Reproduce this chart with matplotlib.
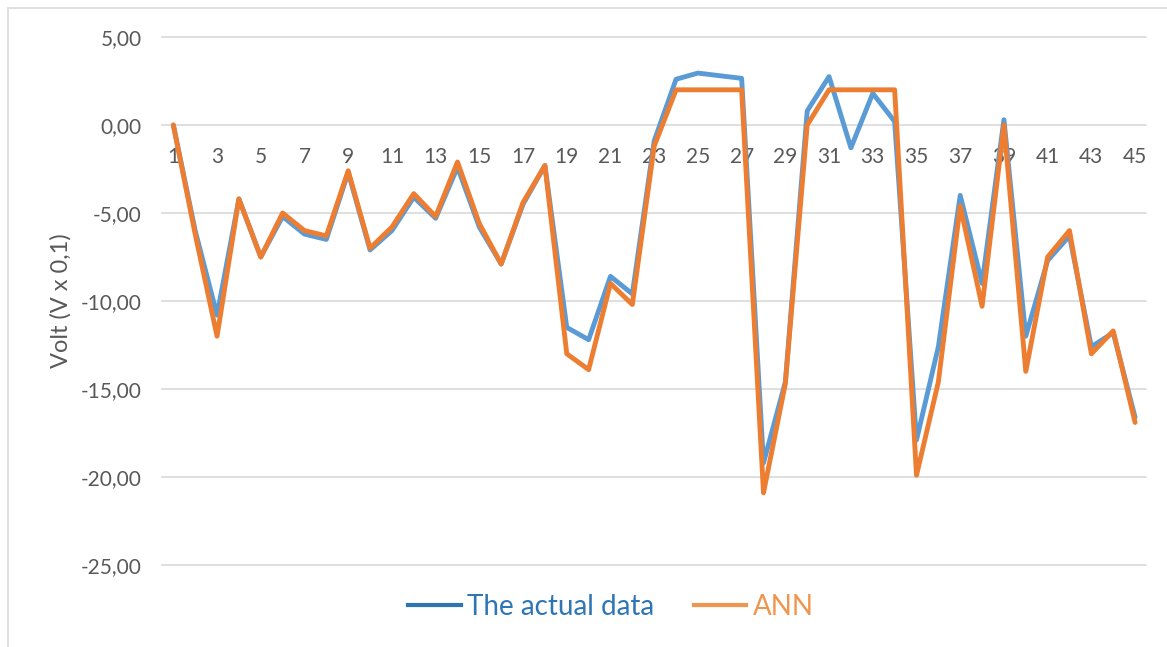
import matplotlib
matplotlib.use("Agg")
import matplotlib.pyplot as plt
from matplotlib.lines import Line2D
from matplotlib.patches import Rectangle

categories = list(range(1, 46))
actual = [0.0, -6.0, -10.8, -4.2, -7.5, -5.2, -6.2, -6.5, -2.7, -7.1,
          -6.0, -4.1, -5.3, -2.4, -5.8, -7.9, -4.5, -2.3, -11.5, -12.2,
          -8.6, -9.6, -0.9, 2.6, 2.95, 2.8, 2.65, -19.2, -14.6, 0.8,
          2.75, -1.3, 1.8, 0.2, -17.9, -12.6, -4.0, -9.0, 0.3, -12.0,
          -7.7, -6.3, -12.6, -11.8, -16.6]
ann = [0.0, -6.2, -12.0, -4.2, -7.5, -5.0, -6.0, -6.3, -2.6, -7.0,
       -5.8, -3.9, -5.2, -2.1, -5.6, -7.9, -4.4, -2.3, -13.0, -13.9,
       -9.0, -10.2, -1.2, 2.0, 2.0, 2.0, 2.0, -20.9, -14.7, 0.0,
       2.0, 2.0, 2.0, 2.0, -19.9, -14.6, -4.6, -10.3, 0.0, -14.0,
       -7.5, -6.0, -13.0, -11.7, -16.9]
yticks = [5, 0, -5, -10, -15, -20, -25]
xtick_labels = [str(c) for c in categories if c % 2 == 1]

plt.rcParams['font.family'] = ['Lato', 'DejaVu Sans']
grey = '#595959'

fig = plt.figure(figsize=(11.67, 6.47), dpi=100)
fig.patches.append(Rectangle((8/1167, -0.1), 1.2, 1 - 8/647 + 0.1, transform=fig.transFigure,
                             fill=False, edgecolor='#D9D9D9', linewidth=1.2))
ax = fig.add_axes([162.4/1167, 82/647, (1146-162.4)/1167, 528/647])

ax.plot(categories, actual, color='#5B9BD5', lw=3.5, solid_joinstyle='round', solid_capstyle='round', zorder=3)
ax.plot(categories, ann, color='#ED7D31', lw=3.5, solid_joinstyle='round', solid_capstyle='round', zorder=4)

ax.set_xlim(0.5, 45.5)
ax.set_ylim(-25, 5)
ax.set_yticks(yticks)
ax.set_yticklabels([f"{v:.2f}".replace('.', ',') for v in yticks], color=grey, fontsize=15)
ax.yaxis.grid(True, color='#D9D9D9', lw=1.2)
for gl in ax.get_ygridlines():
    gl.set_clip_on(False)
ax.set_axisbelow(True)
for s in ax.spines.values():
    s.set_visible(False)
ax.tick_params(axis='y', length=0, pad=15)

ax.spines['bottom'].set_position(('data', 0))
ax.set_xticks([c for c in categories if c % 2 == 1])
ax.set_xticklabels(xtick_labels, color=grey, fontsize=15)
ax.tick_params(axis='x', length=0, pad=16)

ax.set_ylabel('Volt (V x 0,1)', color=grey, fontsize=17)
ax.yaxis.set_label_coords((72 - 162.4) / 983.6, 0.5)

handles = [Line2D([], [], color='#2E75B6', lw=3), Line2D([], [], color='#F0954E', lw=3)]
leg = fig.legend(handles, ['The actual data', 'ANN'], loc='center', bbox_to_anchor=(611/1167, 1 - 607/647),
                 frameon=False, ncol=2, fontsize=20, handlelength=1.9, columnspacing=1.4, handletextpad=0.25)
for t, c in zip(leg.get_texts(), ['#2E75B6', '#F0954E']):
    t.set_color(c)

fig.savefig('out.png', dpi=100, facecolor='white')
